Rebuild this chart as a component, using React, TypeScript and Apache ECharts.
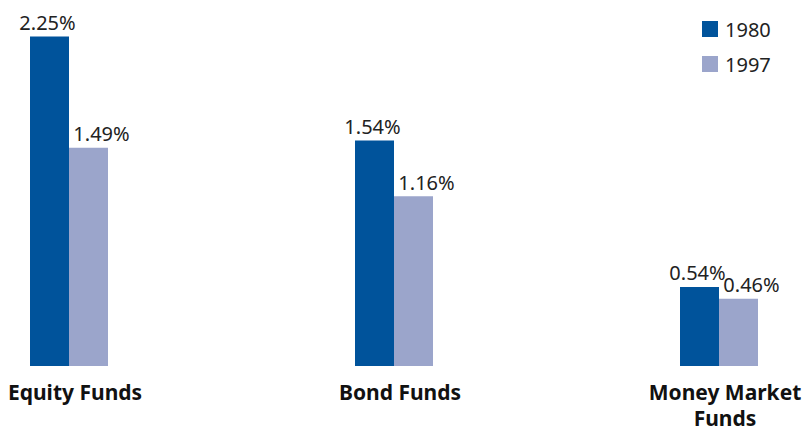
import React, { useEffect, useRef } from "react";
import * as echarts from "echarts";

const categories = ["Equity Funds", "Bond Funds", "Money Market\nFunds"];
const series1980 = [2.25, 1.54, 0.54];
const series1997 = [1.49, 1.16, 0.46];
const seriesNames = ["1980", "1997"];
const colors = ["#00539b", "#9ba5cb"];

export default function App() {
  const ref = useRef<HTMLDivElement>(null);
  useEffect(() => {
    if (!ref.current) return;
    const chart = echarts.init(ref.current, null, { renderer: "svg" });
    const labelBase = {
      show: true,
      position: "top",
      distance: 4,
      fontFamily: "Noto Sans",
      fontSize: 20,
      color: "#222",
      formatter: (p: any) => p.value.toFixed(2) + "%",
    };
    chart.setOption({
      animation: false,
      backgroundColor: "#fff",
      grid: { left: 69, right: 86, top: 0, bottom: 67, outerBoundsMode: "none", containLabel: false },
      legend: {
        orient: "vertical",
        left: 697,
        top: 14,
        itemWidth: 16,
        itemHeight: 16,
        itemGap: 15,
        icon: "rect",
        textStyle: { fontFamily: "Noto Sans", fontSize: 20, color: "#222", padding: [0, 0, 0, 2] },
        data: seriesNames,
      },
      xAxis: {
        type: "category",
        data: categories,
        boundaryGap: false,
        axisLine: { show: false },
        axisTick: { show: false },
        axisLabel: {
          margin: 13,
          fontFamily: "Noto Sans",
          fontWeight: "bold",
          fontSize: 21,
          lineHeight: 26,
          color: "#111",
          padding: [0, 0, 0, 12],
          interval: 0,
        },
      },
      yAxis: {
        type: "value",
        min: 0,
        max: 2.5,
        show: false,
        splitLine: { show: false },
      },
      series: [
        {
          name: seriesNames[0],
          type: "bar",
          data: series1980,
          barWidth: 39,
          barGap: "0%",
          clip: false,
          itemStyle: { color: colors[0] },
          label: { ...labelBase, offset: [-2, 0] },
        },
        {
          name: seriesNames[1],
          type: "bar",
          data: series1997,
          barWidth: 39,
          barGap: "0%",
          clip: false,
          itemStyle: { color: colors[1] },
          label: { ...labelBase, offset: [13, 0] },
        },
      ],
    });
    return () => chart.dispose();
  }, []);
  return (
    <div
      ref={ref}
      style={{ position: "fixed", left: 0, top: 0, width: 805, height: 433 }}
    />
  );
}
